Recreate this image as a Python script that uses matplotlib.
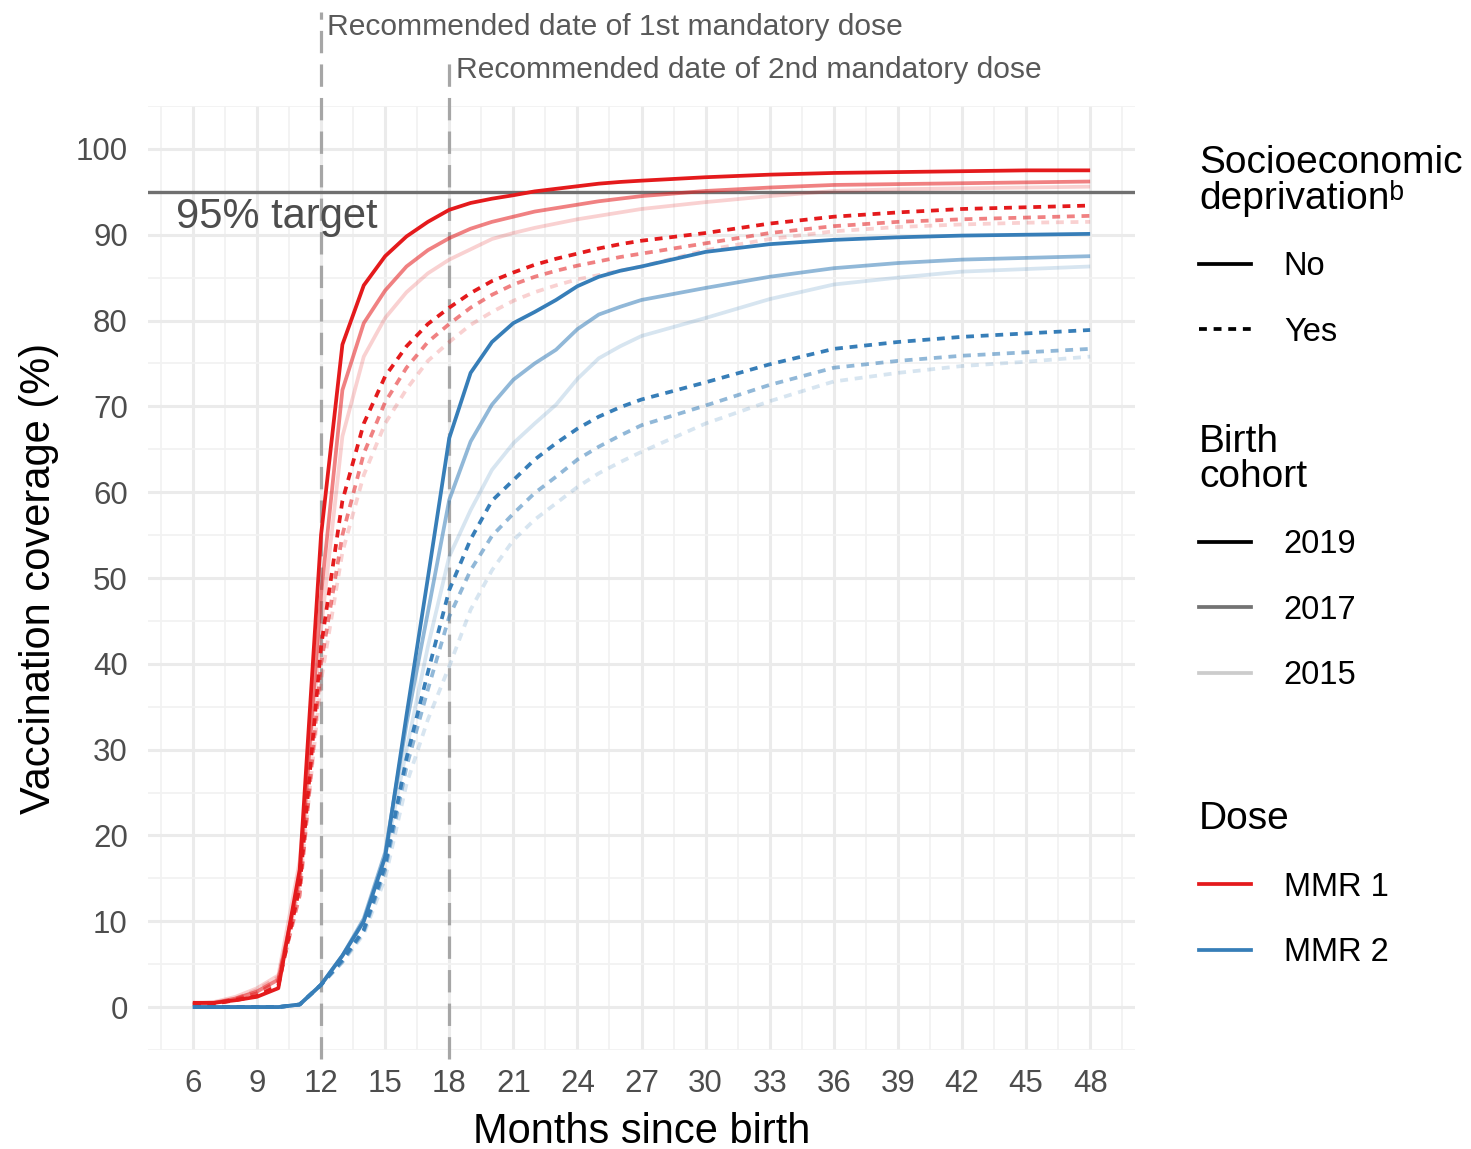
import numpy as np
import matplotlib
matplotlib.use("Agg")
import matplotlib.pyplot as plt
from matplotlib.lines import Line2D

plt.rcParams["font.family"] = ["Liberation Sans", "DejaVu Sans"]

# months since birth (monthly to 27, then every 3 months)
months = [6, 7, 8, 9, 10, 11, 12, 13, 14, 15, 16, 17, 18, 19, 20, 21, 22, 23, 24, 25, 26, 27,
          30, 33, 36, 39, 42, 45, 48]

# MMR 1, not deprived
mmr1_no_2019 = [0.5, 0.5, 0.8, 1.2, 2.2, 16, 55, 77.2, 84.1, 87.5, 89.8, 91.5, 92.9, 93.7, 94.2, 94.6,
                95.05, 95.35, 95.65, 95.95, 96.15, 96.3, 96.7, 97.0, 97.2, 97.3, 97.4, 97.5, 97.5]
mmr1_no_2017 = [0.4, 0.5, 1.0, 1.8, 3.2, 15, 48, 71.9, 79.7, 83.5, 86.3, 88.2, 89.6, 90.7, 91.5, 92.1,
                92.7, 93.1, 93.5, 93.9, 94.2, 94.5, 95.1, 95.5, 95.8, 95.9, 96.0, 96.1, 96.2]
mmr1_no_2015 = [0.4, 0.6, 1.2, 2.2, 3.7, 17, 44, 66.5, 75.8, 80.3, 83.3, 85.5, 87.1, 88.3, 89.5, 90.2,
                90.8, 91.3, 91.8, 92.2, 92.6, 93.0, 93.8, 94.5, 95.1, 95.3, 95.4, 95.5, 95.6]
# MMR 1, deprived
mmr1_yes_2019 = [0.3, 0.4, 0.8, 1.3, 2.5, 14, 42, 59, 68, 73.5, 77, 79.6, 81.5, 83.2, 84.6, 85.6,
                 86.5, 87.2, 87.8, 88.4, 88.9, 89.3, 90.2, 91.3, 92.1, 92.6, 93.0, 93.2, 93.4]
mmr1_yes_2017 = [0.3, 0.4, 0.9, 1.6, 3.0, 13, 40, 55, 64.5, 70.5, 74.5, 77.5, 79.6, 81.5, 83, 84.2,
                 85.1, 85.8, 86.4, 86.9, 87.4, 87.8, 89.0, 90.2, 91.0, 91.5, 91.8, 92.0, 92.2]
mmr1_yes_2015 = [0.3, 0.4, 1.0, 2.0, 3.5, 14, 38, 53, 62, 68, 72, 75.3, 77.5, 79.5, 81, 82.3,
                 83.3, 84.1, 84.8, 85.3, 85.8, 86.3, 88.2, 89.5, 90.4, 90.9, 91.2, 91.4, 91.5]
# MMR 2, not deprived
mmr2_no_2019 = [0, 0, 0, 0, 0, 0.3, 2.6, 6, 10, 17.5, 34, 50, 66.3, 73.9, 77.5, 79.7,
                81.0, 82.4, 84.0, 85.1, 85.8, 86.3, 88.0, 88.9, 89.4, 89.7, 89.9, 90.0, 90.1]
mmr2_no_2017 = [0, 0, 0, 0, 0, 0.3, 2.6, 6, 10.3, 18, 33, 46, 59.1, 65.9, 70.2, 73.1,
                75.0, 76.6, 79.0, 80.7, 81.6, 82.4, 83.8, 85.1, 86.1, 86.7, 87.1, 87.3, 87.5]
mmr2_no_2015 = [0, 0, 0, 0, 0, 0.3, 2.6, 6, 10, 17.5, 30, 42, 52.5, 57.9, 62.6, 65.7,
                68.0, 70.2, 73.2, 75.6, 77.0, 78.2, 80.3, 82.5, 84.2, 85.0, 85.7, 86.0, 86.3]
# MMR 2, deprived
mmr2_yes_2019 = [0, 0, 0, 0, 0, 0.3, 2.6, 5.5, 9.0, 16.5, 29, 39, 48.6, 54.5, 59, 61.4,
                 63.8, 65.7, 67.4, 68.8, 69.9, 70.8, 72.8, 74.9, 76.7, 77.5, 78.1, 78.5, 78.9]
mmr2_yes_2017 = [0, 0, 0, 0, 0, 0.3, 2.6, 5.3, 8.8, 16, 28, 37, 45.5, 50.9, 54.9, 57.5,
                 59.9, 61.8, 63.8, 65.3, 66.6, 67.8, 70.1, 72.5, 74.5, 75.3, 75.9, 76.3, 76.7]
mmr2_yes_2015 = [0, 0, 0, 0, 0, 0.3, 2.6, 5.2, 8.5, 15, 26, 33.5, 39.7, 46.3, 50.9, 54.4,
                 56.8, 58.7, 60.6, 62.2, 63.5, 64.7, 68.0, 70.6, 72.9, 73.9, 74.7, 75.2, 75.8]

cohorts = ["2019", "2017", "2015"]
cohort_alpha = {"2019": 1.0, "2017": 0.55, "2015": 0.2}
dose_colors = {"MMR 1": "#E41A1C", "MMR 2": "#377EB8"}

series = [
    ("MMR 1", "No", "2015", mmr1_no_2015), ("MMR 1", "No", "2017", mmr1_no_2017), ("MMR 1", "No", "2019", mmr1_no_2019),
    ("MMR 1", "Yes", "2015", mmr1_yes_2015), ("MMR 1", "Yes", "2017", mmr1_yes_2017), ("MMR 1", "Yes", "2019", mmr1_yes_2019),
    ("MMR 2", "No", "2015", mmr2_no_2015), ("MMR 2", "No", "2017", mmr2_no_2017), ("MMR 2", "No", "2019", mmr2_no_2019),
    ("MMR 2", "Yes", "2015", mmr2_yes_2015), ("MMR 2", "Yes", "2017", mmr2_yes_2017), ("MMR 2", "Yes", "2019", mmr2_yes_2019),
]

target = 95
dose_dates = [12, 18]
dose_labels = ["Recommended date of 1st mandatory dose", "Recommended date of 2nd mandatory dose"]

W, H = 1471, 1149
fig = plt.figure(figsize=(W / 100, H / 100), dpi=100)
ax = fig.add_axes([148 / W, 1 - 1050 / H, (1135 - 148) / W, (1050 - 106) / H])

lw = 2.7
dashes = (2.1, 1.8)

# grid
ax.set_xlim(3.9, 50.1)
ax.set_ylim(-5, 105)
ax.set_xticks(np.arange(6, 49, 3))
ax.set_yticks(np.arange(0, 101, 10))
ax.set_xticks(np.arange(4.5, 50, 1.5), minor=True)
ax.set_yticks(np.arange(-5, 106, 5), minor=True)
ax.grid(which="major", color="#ebebeb", linewidth=2.2)
ax.grid(which="minor", color="#f2f2f2", linewidth=1.3)
ax.set_axisbelow(True)
for s in ax.spines.values():
    s.set_visible(False)
ax.tick_params(which="both", length=0, labelsize=22.5, labelcolor="#4d4d4d")
ax.tick_params(axis="x", pad=14)
ax.tick_params(axis="y", pad=14.5)

# 95% target
ax.axhline(target, color="#707070", linewidth=2.4, zorder=2)
ax.text(5.2, 92.1, "95% target", fontsize=30, color="#4d4d4d", ha="left", va="center", zorder=3)

# recommended dates
tops = [116.0, 110.7]
label_y = [114.25, 109.15]
for d, top, ly, lab in zip(dose_dates, tops, label_y, dose_labels):
    ax.plot([d, d], [-6, top], color="#a6a6a6", linewidth=2.3, dashes=(7, 3.5),
            clip_on=False, zorder=2)
    ax.text(d + 0.3, ly, lab, fontsize=21.6, color="#595959", ha="left", va="center",
            clip_on=False)

# coverage curves
for dose, depr, coh, vals in series:
    kw = dict(color=dose_colors[dose], alpha=cohort_alpha[coh], linewidth=lw,
              solid_capstyle="butt", zorder=4)
    if depr == "Yes":
        kw["dashes"] = dashes
    ax.plot(months, vals, **kw)

ax.set_xlabel("Months since birth", fontsize=30, labelpad=9)
ax.set_ylabel("Vaccination coverage (%)", fontsize=30, labelpad=12)

# legends
leg_kw = dict(loc="upper left", frameon=False, fontsize=23.5, title_fontsize=28,
              handlelength=1.6, handletextpad=1.0, labelspacing=1.06,
              borderpad=0, borderaxespad=0, alignment="left")

h1 = [Line2D([], [], color="black", linewidth=lw),
      Line2D([], [], color="black", linewidth=lw, dashes=dashes)]
l1 = fig.legend(h1, ["No", "Yes"], title="Socioeconomic\ndeprivation\u1d47",
                bbox_to_anchor=(1199 / W, 1 - 145 / H), **leg_kw)

h2 = [Line2D([], [], color="black", alpha=cohort_alpha[c], linewidth=lw) for c in cohorts]
l2 = fig.legend(h2, cohorts, title="Birth\ncohort",
                bbox_to_anchor=(1199 / W, 1 - 424 / H), **leg_kw)

h3 = [Line2D([], [], color=dose_colors[k], linewidth=lw) for k in dose_colors]
l3 = fig.legend(h3, list(dose_colors), title="Dose",
                bbox_to_anchor=(1199 / W, 1 - 801 / H), **leg_kw)

for lg in (l1, l2, l3):
    lg.get_title().set_linespacing(0.95)

fig.savefig("out.png", dpi=100, facecolor="white")
